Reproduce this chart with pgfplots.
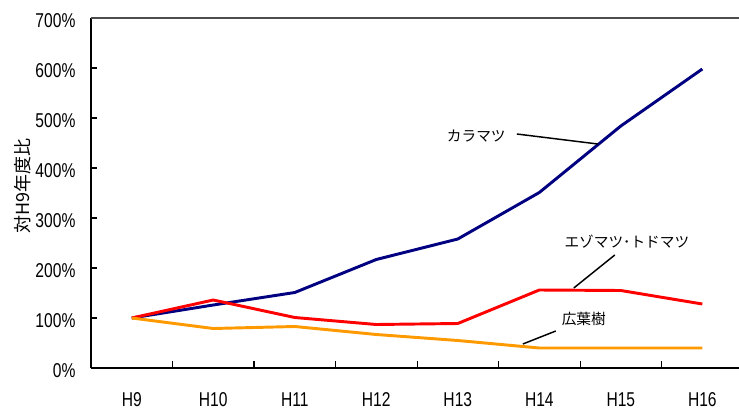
\documentclass[border=0pt]{standalone}
\usepackage{fontspec}
\setmainfont{Liberation Sans}[FakeStretch=0.78]
\newfontfamily\jp{Noto Sans CJK JP}
\usepackage{pgfplots}
\pgfplotsset{compat=1.18}
\definecolor{navyline}{RGB}{0,0,128}
\definecolor{redline}{RGB}{255,0,0}
\definecolor{orangeline}{RGB}{255,153,0}
\begin{document}
\begin{tikzpicture}
\useasboundingbox (-68.25pt,-33pt) rectangle (486pt,276pt);
\begin{axis}[
  at={(0,0)}, anchor=south west,
  scale only axis,
  width=486pt, height=262.5pt,
  xmin=-0.5, xmax=7.45,
  ymin=0, ymax=700,
  axis x line*=bottom, axis y line*=left,
  x axis line style={-, line width=1.6pt},
  y axis line style={-, line width=1.1pt},
  tick align=inside,
  xtick={0,...,7},
  xticklabels={H9,H10,H11,H12,H13,H14,H15,H16},
  major x tick style={draw=none},
  minor xtick={0.5,1.5,...,6.5},
  minor tick length=5.25pt,
  minor x tick style={black, line width=0.8pt},
  ytick={0,100,...,700},
  major tick length=4.5pt,
  major y tick style={black, line width=0.8pt},
  /pgf/number format/assume math mode=true,
  yticklabel={\pgfmathprintnumber{\tick}\%},
  tick label style={font=\fontsize{15}{18}\selectfont},
  xticklabel style={anchor=center, inner sep=0pt, yshift=-23.5pt},
  yticklabel style={anchor=east, inner sep=0pt, xshift=-11.5pt, yshift=-2pt},
  ylabel={\jp 対H9年度比},
  every axis y label/.style={at={(rel axis cs:0,0.52)}, xshift=-51pt, rotate=90, anchor=center, font=\fontsize{13.5}{16}\selectfont},
  clip=false,
]
\draw[line width=0.9pt, black!70] (rel axis cs:0,1) -- (rel axis cs:1,1);
\addplot[color=navyline, line width=2.2pt, mark=none] coordinates {
  (0,100) (1,126) (2,151) (3,217) (4,258) (5,351) (6,484) (7,598)};
\addplot[color=redline, line width=2.2pt, mark=none] coordinates {
  (0,100) (1,136) (2,101) (3,87) (4,89) (5,156) (6,155) (7,128)};
\addplot[color=orangeline, line width=2.2pt, mark=none] coordinates {
  (0,100) (1,79) (2,83) (3,67) (4,55) (5,40) (6,40) (7,40)};
\draw[black, line width=1.1pt] (axis cs:4.724,468) -- (axis cs:5.718,448);
\draw[black, line width=1.1pt] (axis cs:5.926,226) -- (axis cs:5.423,160);
\draw[black, line width=1.1pt] (axis cs:5.202,74) -- (axis cs:4.798,48);
\node[font=\jp\fontsize{11}{13}\selectfont, inner sep=0pt] at (axis cs:4.227,464) {カラマツ};
\node[font=\jp\fontsize{11}{13}\selectfont, inner sep=0pt] at (axis cs:6.074,253) {エゾマツ･トドマツ};
\node[font=\jp\fontsize{11}{13}\selectfont, inner sep=0pt] at (axis cs:5.546,98) {広葉樹};
\end{axis}
\end{tikzpicture}
\end{document}
